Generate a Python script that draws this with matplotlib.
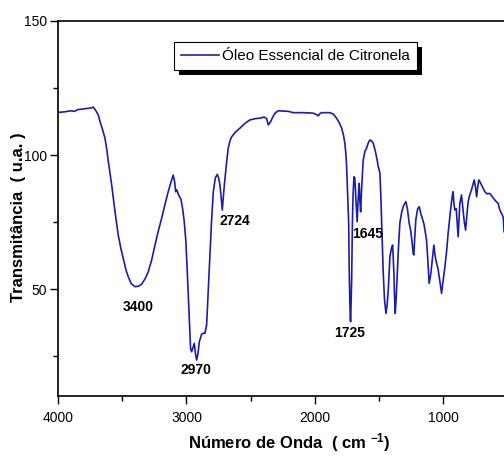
import matplotlib
matplotlib.use("Agg")
from matplotlib import pyplot as plt
from matplotlib.patches import Rectangle
from matplotlib.ticker import MultipleLocator

plt.rcParams["font.family"] = ["Liberation Sans", "DejaVu Sans"]
plt.rcParams["mathtext.default"] = "regular"

# espectro FTIR (numero de onda, transmitancia)
numero_onda = [
    4000, 3950, 3900, 3870, 3850, 3800, 3760, 3738, 3725, 3705, 3686, 3670,
    3660, 3645, 3634, 3620, 3608, 3582, 3556, 3531, 3510, 3492, 3470, 3453,
    3430, 3401, 3375, 3349, 3320, 3297, 3270, 3245, 3220, 3193, 3165, 3142,
    3120, 3103, 3092, 3084, 3076, 3060, 3043, 3030, 3017, 3005, 2995, 2986,
    2975, 2968, 2960, 2950, 2939, 2930, 2921, 2910, 2900, 2882, 2870, 2856,
    2843, 2830, 2817, 2805, 2791, 2775, 2760, 2750, 2739, 2730, 2721, 2712,
    2700, 2688, 2675, 2660, 2648, 2620, 2584, 2545, 2506, 2460, 2420, 2395,
    2375, 2363, 2352, 2345, 2330, 2311, 2286, 2250, 2208, 2169, 2100, 2040,
    2013, 1985, 1974, 1960, 1948, 1883, 1855, 1831, 1810, 1792, 1778, 1767,
    1760, 1753, 1747, 1741, 1737, 1733, 1728, 1724, 1722, 1718, 1714, 1708,
    1703, 1696, 1690, 1685, 1681, 1676, 1671, 1665, 1658, 1655, 1650, 1644,
    1637, 1630, 1624, 1610, 1598, 1585, 1572, 1560, 1546, 1530, 1515, 1507,
    1500, 1494, 1487, 1481, 1474, 1468, 1458, 1447, 1438, 1429, 1416, 1405,
    1395, 1385, 1380, 1375, 1368, 1359, 1350, 1339, 1325, 1313, 1300, 1292,
    1280, 1266, 1255, 1245, 1235, 1230, 1222, 1214, 1200, 1188, 1175, 1165,
    1150, 1131, 1120, 1111, 1100, 1092, 1074, 1066, 1058, 1040, 1025, 1014,
    1005, 988, 975, 963, 944, 930, 924, 918, 911, 900, 893, 885,
    878, 872, 859, 852, 846, 837, 827, 818, 807, 795, 781, 770,
    760, 750, 741, 733, 724, 715, 703, 690, 677, 660, 651, 635,
    620, 599, 586, 573, 564, 554, 540, 533, 528,
]
transmitancia = [
    115.9, 116.1, 116.5, 116.3, 116.9, 117.2, 117.4, 117.6, 117.9, 116.5, 114.9, 112.0,
    110.6, 108.0, 106.2, 102.0, 97.5, 88.8, 78.8, 70.1, 65.0, 61.4, 57.0, 54.6,
    52.0, 50.9, 51.0, 51.8, 54.0, 56.5, 61.0, 66.4, 71.5, 76.4, 82.0, 86.3,
    90.0, 92.5, 90.0, 86.3, 87.0, 85.0, 83.5, 80.0, 75.1, 68.0, 58.0, 47.8,
    35.0, 27.9, 26.6, 28.0, 29.7, 26.0, 23.5, 26.0, 30.3, 33.1, 33.5, 33.5,
    36.6, 50.0, 62.7, 75.0, 86.3, 91.5, 92.8, 91.5, 88.8, 84.0, 79.5, 85.0,
    91.3, 97.0, 102.5, 105.5, 106.8, 108.5, 110.0, 111.8, 113.1, 113.6, 113.8, 114.2,
    113.5, 111.2, 112.0, 112.4, 114.0, 115.6, 116.5, 116.4, 116.3, 115.8, 115.8, 115.7,
    115.6, 115.0, 114.6, 115.5, 115.8, 115.8, 115.2, 113.7, 112.0, 110.0, 107.5, 104.4,
    101.0, 95.6, 88.0, 80.7, 74.5, 57.1, 45.0, 38.5, 37.8, 46.0, 53.4, 75.0,
    85.0, 91.9, 91.5, 88.0, 83.2, 79.0, 75.1, 82.0, 88.0, 89.4, 83.0, 78.8,
    86.9, 93.0, 98.1, 101.5, 102.5, 104.5, 105.6, 105.3, 104.4, 101.5, 98.0, 95.6,
    94.5, 93.2, 85.0, 75.7, 66.0, 55.9, 46.0, 40.9, 44.0, 49.6, 62.1, 65.0,
    66.4, 55.9, 47.0, 40.9, 46.0, 55.9, 65.0, 74.5, 78.5, 80.7, 82.0, 82.6,
    80.0, 74.5, 72.0, 68.0, 63.3, 62.7, 70.0, 76.0, 80.0, 80.7, 78.0, 76.5,
    74.0, 68.3, 60.0, 52.1, 55.0, 58.3, 66.4, 63.0, 60.8, 57.1, 52.0, 48.4,
    52.0, 58.3, 64.0, 70.8, 79.5, 85.0, 86.3, 82.0, 79.5, 80.0, 75.0, 69.5,
    76.0, 82.0, 85.1, 82.0, 79.5, 75.0, 72.0, 77.0, 82.6, 85.0, 87.0, 89.0,
    90.7, 88.0, 84.4, 88.0, 90.7, 90.0, 88.8, 87.5, 86.3, 85.5, 85.7, 85.5,
    84.5, 83.2, 82.5, 82.0, 80.0, 78.8, 77.5, 76.4, 71.4,
]

# bandas marcadas: texto e posicao do rotulo
bandas = ["3400", "2970", "2724", "1645", "1725"]
bandas_x = [3377, 2926, 2623, 1588, 1728]
bandas_y = [43.3, 19.8, 75.4, 70.5, 33.6]

legenda = "Óleo Essencial de Citronela"
cor = "#1c1cac"


def desenhar_espectro(ax: matplotlib.axes.Axes) -> None:
    ax.plot(numero_onda, transmitancia, color=cor, lw=1.2, label=legenda)
    for texto, x, y in zip(bandas, bandas_x, bandas_y):
        ax.text(x, y, texto, ha="center", va="center", fontsize=10,
                fontweight="bold")


def ajustar_eixos(ax: matplotlib.axes.Axes) -> None:
    ax.set_xlim(4000, 528)
    ax.set_ylim(10.2, 150)
    ax.xaxis.set_major_locator(MultipleLocator(1000))
    ax.xaxis.set_minor_locator(MultipleLocator(500))
    ax.yaxis.set_major_locator(MultipleLocator(50))
    ax.yaxis.set_minor_locator(MultipleLocator(25))
    ax.tick_params(which="major", direction="out", length=6, width=1,
                   labelsize=10)
    ax.tick_params(axis="y", which="major", pad=2)
    ax.tick_params(axis="x", which="major", pad=5)
    ax.tick_params(which="minor", direction="out", length=3.5, width=1)
    ax.spines["right"].set_visible(False)
    for lado in ["left", "bottom", "top"]:
        ax.spines[lado].set_linewidth(1.2)

    ax.set_ylabel("Transmitância  ( u.a. )", fontsize=12, fontweight="bold",
                  va="center")
    ax.yaxis.set_label_coords(-0.088, 0.477)
    ax.set_xlabel("Número de Onda  ( cm $^{-1}$)", fontsize=12,
                  fontweight="bold", va="center")
    ax.xaxis.set_label_coords(0.519, -0.124)


def desenhar_legenda(fig: plt.Figure, ax: matplotlib.axes.Axes) -> None:
    leg = ax.legend(loc="upper left", bbox_to_anchor=(174 / 504, 1 - 42 / 457),
                    bbox_transform=fig.transFigure, borderaxespad=0,
                    fancybox=False, fontsize=11, handlelength=2.5,
                    handletextpad=0.2, borderpad=0.45)
    leg.get_frame().set_edgecolor("black")
    leg.get_frame().set_linewidth(0.8)
    leg.get_frame().set_alpha(1)

    # sombra preta deslocada, como na figura original
    fig.canvas.draw()
    caixa = leg.get_window_extent().transformed(fig.transFigure.inverted())
    dx = 5 / 504
    dy = 5 / 457
    ax.add_patch(Rectangle((caixa.x0 + dx, caixa.y0 - dy), caixa.width,
                           caixa.height, transform=fig.transFigure,
                           facecolor="black", edgecolor="none", zorder=4.9,
                           clip_on=False))


def main() -> None:
    fig = plt.figure(figsize=(5.04, 4.57), dpi=100)
    ax = fig.add_axes([58 / 504, 1 - 395.7 / 457, 446 / 504, 374.7 / 457])
    desenhar_espectro(ax)
    ajustar_eixos(ax)
    desenhar_legenda(fig, ax)
    fig.savefig("out.png", dpi=100)


if __name__ == "__main__":
    main()
